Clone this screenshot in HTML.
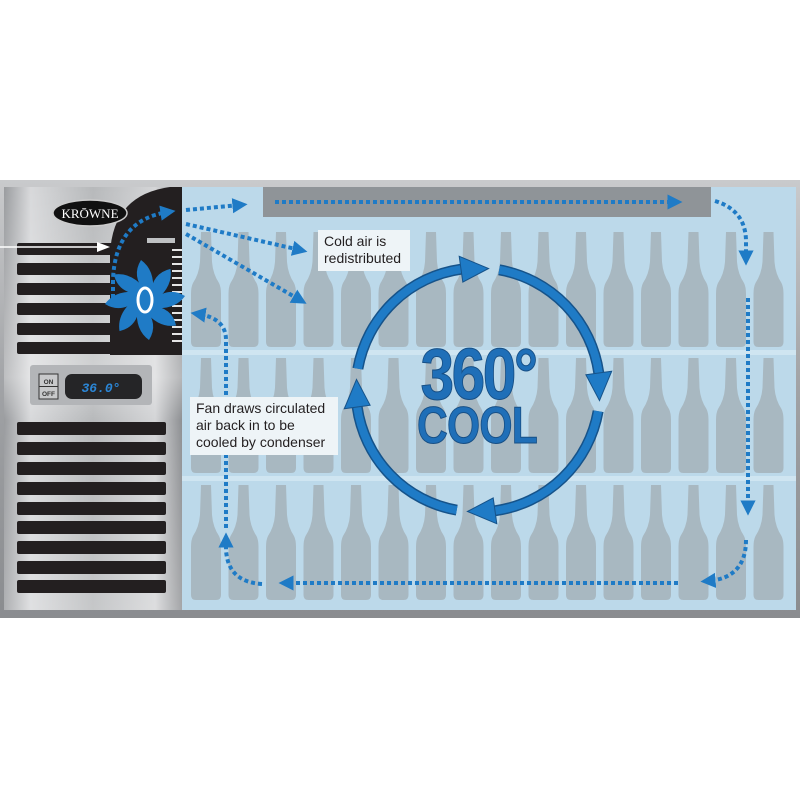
<!DOCTYPE html>
<html><head><meta charset="utf-8"><style>
body{margin:0;background:#fff;width:800px;height:800px;overflow:hidden}
</style></head><body>
<svg width="800" height="800" viewBox="0 0 800 800" xmlns="http://www.w3.org/2000/svg">
<defs>
<linearGradient id="frame" x1="0" y1="0" x2="0" y2="1">
<stop offset="0" stop-color="#c9cacc"/><stop offset="0.5" stop-color="#9fa1a4"/><stop offset="1" stop-color="#8a8c8f"/>
</linearGradient>
<linearGradient id="metal" x1="0" y1="0" x2="1" y2="0">
<stop offset="0" stop-color="#9a9c9f"/><stop offset="0.15" stop-color="#d8d9db"/><stop offset="0.5" stop-color="#b7b9bb"/><stop offset="0.85" stop-color="#d4d5d7"/><stop offset="1" stop-color="#8e9093"/>
</linearGradient>
<linearGradient id="metalv" x1="0" y1="0" x2="0" y2="1">
<stop offset="0" stop-color="#fff" stop-opacity="0"/><stop offset="0.45" stop-color="#fff" stop-opacity="0.35"/><stop offset="0.55" stop-color="#fff" stop-opacity="0"/><stop offset="1" stop-color="#fff" stop-opacity="0.2"/>
</linearGradient>
<path id="b" d="M-5,0 L5,0 L6,30 Q7,42 13,51 Q15,55 15,62 L15,110 Q15,115 10,115 L-10,115 Q-15,115 -15,110 L-15,62 Q-15,55 -13,51 Q-7,42 -6,30 Z" fill="#a8b8c1"/>
<marker id="ah" viewBox="0 0 10 10" refX="5" refY="5" markerWidth="3.8" markerHeight="3.8" orient="auto" markerUnits="strokeWidth">
<path d="M0,0 L10,5 L0,10 z" fill="#1f7bc6"/></marker>
</defs>

<rect x="0" y="180" width="800" height="438" fill="url(#frame)"/>
<rect x="182" y="187" width="614" height="423" fill="#bcd9ea"/>
<rect x="182" y="350" width="614" height="5" fill="#cfe5f1"/>
<rect x="182" y="476" width="614" height="5" fill="#cfe5f1"/>

<g>
<use href="#b" x="206" y="232"/><use href="#b" x="243.5" y="232"/><use href="#b" x="281" y="232"/><use href="#b" x="318.5" y="232"/><use href="#b" x="356" y="232"/><use href="#b" x="393.5" y="232"/><use href="#b" x="431" y="232"/><use href="#b" x="468.5" y="232"/><use href="#b" x="506" y="232"/><use href="#b" x="543.5" y="232"/><use href="#b" x="581" y="232"/><use href="#b" x="618.5" y="232"/><use href="#b" x="656" y="232"/><use href="#b" x="693.5" y="232"/><use href="#b" x="731" y="232"/><use href="#b" x="768.5" y="232"/>
<use href="#b" x="206" y="358"/><use href="#b" x="243.5" y="358"/><use href="#b" x="281" y="358"/><use href="#b" x="318.5" y="358"/><use href="#b" x="356" y="358"/><use href="#b" x="393.5" y="358"/><use href="#b" x="431" y="358"/><use href="#b" x="468.5" y="358"/><use href="#b" x="506" y="358"/><use href="#b" x="543.5" y="358"/><use href="#b" x="581" y="358"/><use href="#b" x="618.5" y="358"/><use href="#b" x="656" y="358"/><use href="#b" x="693.5" y="358"/><use href="#b" x="731" y="358"/><use href="#b" x="768.5" y="358"/>
<use href="#b" x="206" y="485"/><use href="#b" x="243.5" y="485"/><use href="#b" x="281" y="485"/><use href="#b" x="318.5" y="485"/><use href="#b" x="356" y="485"/><use href="#b" x="393.5" y="485"/><use href="#b" x="431" y="485"/><use href="#b" x="468.5" y="485"/><use href="#b" x="506" y="485"/><use href="#b" x="543.5" y="485"/><use href="#b" x="581" y="485"/><use href="#b" x="618.5" y="485"/><use href="#b" x="656" y="485"/><use href="#b" x="693.5" y="485"/><use href="#b" x="731" y="485"/><use href="#b" x="768.5" y="485"/>
</g>

<rect x="263" y="187" width="448" height="30" fill="#8f9498"/>

<!-- left panel -->
<rect x="4" y="187" width="178" height="423" fill="url(#metal)"/>
<rect x="4" y="187" width="178" height="423" fill="url(#metalv)"/>
<g fill="#231f20">
<rect x="17" y="243" width="150" height="12" rx="2"/><rect x="17" y="263" width="150" height="12" rx="2"/><rect x="17" y="283" width="150" height="12" rx="2"/><rect x="17" y="303" width="150" height="12" rx="2"/><rect x="17" y="323" width="150" height="12" rx="2"/><rect x="17" y="342" width="150" height="12" rx="2"/>
<rect x="17" y="422" width="149" height="13" rx="2"/><rect x="17" y="442" width="149" height="13" rx="2"/><rect x="17" y="462" width="149" height="13" rx="2"/><rect x="17" y="482" width="149" height="13" rx="2"/><rect x="17" y="502" width="149" height="13" rx="2"/><rect x="17" y="521" width="149" height="13" rx="2"/><rect x="17" y="541" width="149" height="13" rx="2"/><rect x="17" y="561" width="149" height="13" rx="2"/><rect x="17" y="580" width="149" height="13" rx="2"/>
<path d="M182,187 V355 H110 V255 Q112,195 170,187 Z"/>
</g>
<rect x="147" y="238" width="28" height="5" fill="#bfc1c3"/>
<g stroke="#e6e6e6" stroke-width="2">
<line x1="172" y1="250" x2="182" y2="250"/><line x1="172" y1="257" x2="182" y2="257"/><line x1="172" y1="264" x2="182" y2="264"/><line x1="172" y1="271" x2="182" y2="271"/><line x1="172" y1="278" x2="182" y2="278"/><line x1="172" y1="285" x2="182" y2="285"/><line x1="172" y1="292" x2="182" y2="292"/><line x1="172" y1="299" x2="182" y2="299"/><line x1="172" y1="306" x2="182" y2="306"/><line x1="172" y1="313" x2="182" y2="313"/><line x1="172" y1="320" x2="182" y2="320"/><line x1="172" y1="327" x2="182" y2="327"/><line x1="172" y1="334" x2="182" y2="334"/><line x1="172" y1="341" x2="182" y2="341"/>
</g>
<!-- fan -->
<g fill="#1f7bc6" transform="translate(145,300)">
<path id="bl" d="M0,-8 Q-14,-24 -4,-40 Q10,-30 8,-8 Z"/>
<use href="#bl" transform="rotate(45)"/><use href="#bl" transform="rotate(90)"/><use href="#bl" transform="rotate(135)"/><use href="#bl" transform="rotate(180)"/><use href="#bl" transform="rotate(225)"/><use href="#bl" transform="rotate(270)"/><use href="#bl" transform="rotate(315)"/>
<ellipse cx="0" cy="0" rx="13" ry="17"/>
<ellipse cx="0" cy="0" rx="7" ry="12" fill="none" stroke="#fff" stroke-width="3"/>
</g>
<!-- logo -->
<ellipse cx="90" cy="213" rx="37" ry="13" fill="#111" stroke="#ccc" stroke-width="1.5"/>
<text x="90" y="218" text-anchor="middle" font-family="Liberation Serif, serif" font-size="13" fill="#fff">KRŌWNE</text>
<!-- white arrow -->
<line x1="0" y1="247" x2="98" y2="247" stroke="#fff" stroke-width="1.5"/>
<path d="M97,242 L110,247 L97,252 z" fill="#fff"/>
<!-- controls -->
<rect x="30" y="365" width="122" height="40" rx="3" fill="#b3b5b8"/>
<rect x="39" y="374" width="19" height="25" fill="#c8c9cb" stroke="#333" stroke-width="1"/>
<line x1="39" y1="386.5" x2="58" y2="386.5" stroke="#333"/>
<text x="48.5" y="384" text-anchor="middle" font-family="Liberation Sans, sans-serif" font-size="6.5" font-weight="bold" fill="#333">ON</text>
<text x="48.5" y="396" text-anchor="middle" font-family="Liberation Sans, sans-serif" font-size="6.5" font-weight="bold" fill="#333">OFF</text>
<rect x="65" y="374" width="77" height="25" rx="7" fill="#252527"/>
<text x="101" y="392" text-anchor="middle" font-family="Liberation Mono, monospace" font-size="13" font-style="italic" font-weight="bold" fill="#2b86d6">36.0°</text>

<!-- dotted arrows -->
<g fill="none" stroke="#1f7bc6" stroke-width="4" stroke-dasharray="4 3">
<path d="M275,202 H675" marker-end="url(#ah)"/>
<path d="M186,210 L240,205" marker-end="url(#ah)"/>
<path d="M186,224 L300,250" marker-end="url(#ah)"/>
<path d="M186,234 L300,300" marker-end="url(#ah)"/>
<path d="M113,305 V280 Q115,220 168,212" marker-end="url(#ah)"/>
<path d="M715,201 Q745,210 746,240 V258" marker-end="url(#ah)"/>
<path d="M748,298 V508" marker-end="url(#ah)"/>
<path d="M746,540 Q746,578 708,581" marker-end="url(#ah)"/>
<path d="M678,583 H286" marker-end="url(#ah)"/>
<path d="M262,584 Q228,582 226,550 V540" marker-end="url(#ah)"/>
<path d="M226,528 V340 Q226,318 198,314" marker-end="url(#ah)"/>
</g>

<!-- labels -->
<rect x="318" y="230" width="92" height="41" fill="#eef4f7"/>
<text font-family="Liberation Sans, sans-serif" font-size="14" fill="#231f20"><tspan x="324" y="246">Cold air is</tspan><tspan x="324" y="263">redistributed</tspan></text>
<rect x="190" y="397" width="148" height="58" fill="#eef4f7"/>
<text font-family="Liberation Sans, sans-serif" font-size="14" fill="#231f20"><tspan x="196" y="413">Fan draws circulated</tspan><tspan x="196" y="430">air back in to be</tspan><tspan x="196" y="447">cooled by condenser</tspan></text>

<!-- circle -->
<circle cx="478" cy="390" r="122" fill="none" stroke="#16538a" stroke-width="11" stroke-dasharray="153.3 38.3" transform="rotate(280 478 390)"/>
<circle cx="478" cy="390" r="122" fill="none" stroke="#1f7bc6" stroke-width="8" stroke-dasharray="153.3 38.3" transform="rotate(280 478 390)"/>
<g fill="#1f7bc6" stroke="#16538a" stroke-width="1">
<polygon points="585.9,374.8 611.7,371.2 599.5,400.6"/>
<polygon points="493.2,497.9 496.8,523.7 467.4,511.5"/>
<polygon points="370.1,405.2 344.3,408.8 356.5,379.4"/>
<polygon points="462.8,282.1 459.2,256.3 488.6,268.5"/>
</g>
<g font-family="Liberation Sans Narrow, Liberation Sans, sans-serif" font-weight="bold" fill="#1f6fb8" stroke="#174f85" stroke-width="1">
<text x="0" y="399" text-anchor="middle" font-size="72" letter-spacing="-3" transform="translate(478,0) scale(0.84,1)">360°</text>
<text x="0" y="443" text-anchor="middle" font-size="52" letter-spacing="-1" transform="translate(477,0) scale(0.82,1)">COOL</text>
</g>
</svg>
</body></html>
